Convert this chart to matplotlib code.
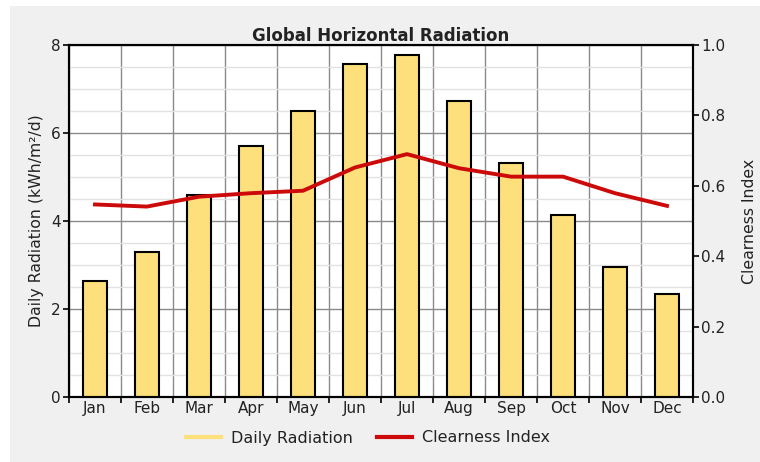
import numpy as np
import matplotlib
matplotlib.use("Agg")
import matplotlib.pyplot as plt
from matplotlib.lines import Line2D
from matplotlib.patches import Rectangle

# data
months = ['Jan', 'Feb', 'Mar', 'Apr', 'May', 'Jun',
          'Jul', 'Aug', 'Sep', 'Oct', 'Nov', 'Dec']
daily_radiation = [2.64, 3.30, 4.59, 5.71, 6.51, 7.56,
                   7.77, 6.73, 5.32, 4.14, 2.95, 2.34]
clearness_index = [0.547, 0.541, 0.569, 0.579, 0.586, 0.652,
                   0.690, 0.650, 0.626, 0.626, 0.579, 0.543]

bar_col = '#fde07c'
line_col = '#cc0a0a'
grid_col = '#8a8a8a'
txt_col = '#222222'

plt.rcParams['font.family'] = ['DejaVu Sans']
fig = plt.figure(figsize=(7.6, 4.62), dpi=100, facecolor='#f0f0f0')
# white strips on left/top edge like the screenshot
fig.patches.append(Rectangle((0, 0), 10 / 760, 1, transform=fig.transFigure,
                             facecolor='white', edgecolor='none', zorder=-1))
fig.patches.append(Rectangle((0, 1 - 6 / 462), 1, 6 / 462, transform=fig.transFigure,
                             facecolor='white', edgecolor='none', zorder=-1))

ax = fig.add_axes([69 / 760, 1 - 397 / 462, 624 / 760, 352 / 462])
ax.set_facecolor('white')
x = np.arange(len(months))

ax.bar(x, daily_radiation, width=0.45, color=bar_col, edgecolor='black',
       linewidth=1.5, zorder=3)
ax.set_xlim(-0.5, 11.5)
ax.set_ylim(0, 8)
ax.set_yticks([0, 2, 4, 6, 8])
ax.set_yticks(np.arange(0, 8.01, 0.5), minor=True)
ax.set_xticks(np.arange(-0.5, 12, 1))
ax.set_xticklabels([])
ax.set_xticks(x, minor=True)
ax.set_xticklabels(months, minor=True)
ax.tick_params(axis='x', which='minor', length=0, labelsize=11, pad=3, colors=txt_col)
ax.tick_params(axis='x', which='major', length=4, width=1.2, direction='out')
ax.tick_params(axis='y', which='major', length=4, width=1.2, labelsize=11,
               pad=2, labelcolor=txt_col)
ax.tick_params(axis='y', which='minor', length=0)
ax.grid(axis='y', which='minor', color='#e2e2e2', linewidth=1, zorder=0)
ax.grid(axis='y', which='major', color=grid_col, linewidth=1, zorder=1)
ax.grid(axis='x', which='major', color=grid_col, linewidth=1, zorder=1)
for s in ax.spines.values():
    s.set_linewidth(1.5)
ax.set_ylabel('Daily Radiation (kWh/m\u00b2/d)', fontsize=11.3, color=txt_col, labelpad=5)
ax.set_title('Global Horizontal Radiation', fontsize=12, fontweight='bold',
             color=txt_col, pad=2)

ax2 = ax.twinx()
ax2.plot(x, clearness_index, color=line_col, linewidth=2.8, zorder=4)
ax2.set_ylim(0, 1.0)
ax2.set_yticks(np.arange(0, 1.01, 0.2))
ax2.set_yticklabels(['%.1f' % v for v in np.arange(0, 1.01, 0.2)])
ax2.tick_params(axis='y', length=4, width=1.2, labelsize=11, pad=2, labelcolor=txt_col)
ax2.set_ylabel('Clearness Index', fontsize=11.3, color=txt_col, labelpad=12)
for s in ax2.spines.values():
    s.set_linewidth(1.5)

handles = [Line2D([], [], color=bar_col, linewidth=3),
           Line2D([], [], color=line_col, linewidth=3)]
fig.legend(handles, ['Daily Radiation', 'Clearness Index'], loc='center',
           bbox_to_anchor=(368 / 760, 1 - 438 / 462), ncol=2, frameon=False,
           fontsize=11.5, handlelength=2.2, columnspacing=1.5, handletextpad=0.6,
           labelcolor=txt_col)

fig.savefig('out.png', dpi=100, facecolor=fig.get_facecolor())
